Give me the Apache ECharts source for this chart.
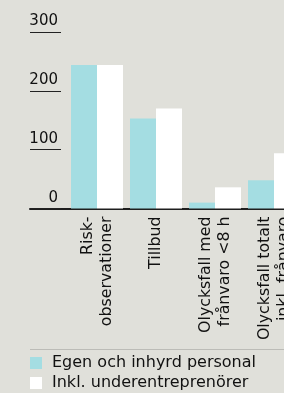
<!DOCTYPE html>
<html>
<head>
<meta charset="utf-8">
<script src="https://cdn.jsdelivr.net/npm/echarts@6/dist/echarts.min.js"></script>
<style>
	html, body { margin: 0; padding: 0; background: #e0e0da; }
	#chart { width: 284px; height: 393px; }
</style>
</head>
<body>
<div id="chart"></div>
<script>
	// 数据
	var categories = [ "Risk-\nobservationer", "Tillbud", "Olycksfall med\nfrånvaro <8 h", "Olycksfall totalt\ninkl. frånvaro" ];
	var egenValues = [ 244, 153, 10, 48 ];
	var inklValues = [ 244, 170, 36, 94 ];
	var seriesNames = [ "Egen och inhyrd personal", "Inkl. underentreprenörer" ];
	var yTicks = [ 0, 100, 200, 300 ];

	var font = "DejaVu Sans";
	var textColor = "#111111";

	var myChart = echarts.init(document.getElementById('chart'));
	var option = {
		backgroundColor : '#e0e0da',
		animation : false,
		// grid 0 放柱子（右边超出画布），grid 1 画坐标轴线和刻度
		grid : [ {
			left : 67.5,
			top : 32,
			width : 236,
			height : 176.5,
			outerBoundsMode : 'none'
		}, {
			left : 30,
			right : 0,
			top : 32,
			height : 176.5,
			outerBoundsMode : 'none'
		} ],
		xAxis : [ {
			type : 'category',
			gridIndex : 0,
			data : categories,
			axisLine : { show : false },
			axisTick : { show : false },
			axisLabel : {
				interval : 0,
				rotate : 90,
				margin : 8,
				fontFamily : font,
				fontSize : 15.8,
				lineHeight : 19,
				color : textColor
			}
		}, {
			type : 'value',
			gridIndex : 1,
			axisLine : {
				show : true,
				lineStyle : { color : '#1e1e1e', width : 2 }
			},
			axisTick : { show : false },
			axisLabel : { show : false },
			splitLine : { show : false }
		} ],
		yAxis : [ {
			type : 'value',
			gridIndex : 0,
			min : yTicks[0],
			max : yTicks[yTicks.length - 1],
			interval : 100,
			show : false
		}, {
			type : 'value',
			gridIndex : 1,
			min : yTicks[0],
			max : yTicks[yTicks.length - 1],
			interval : 100,
			axisLine : { show : false },
			splitLine : { show : false },
			axisTick : {
				show : true,
				inside : true,
				length : 31,
				lineStyle : { color : '#222222', width : 1 }
			},
			axisLabel : {
				inside : true,
				align : 'right',
				verticalAlign : 'bottom',
				margin : 28,
				padding : [ 0, 0, 3, 0 ],
				fontFamily : font,
				fontSize : 15,
				color : textColor
			}
		} ],
		legend : {
			orient : 'vertical',
			left : 30,
			top : 355,
			padding : 0,
			itemWidth : 12,
			itemHeight : 12,
			itemGap : 4,
			icon : 'rect',
			data : seriesNames,
			textStyle : {
				fontFamily : font,
				fontSize : 16,
				lineHeight : 16,
				color : textColor,
				padding : [ 0, 0, 0, 5 ]
			}
		},
		// 图例上方的分隔线
		graphic : [ {
			type : 'line',
			shape : { x1 : 30, y1 : 349.5, x2 : 284, y2 : 349.5 },
			style : { stroke : '#bcbcb7', lineWidth : 1 }
		} ],
		series : [ {
			name : seriesNames[0],
			type : 'bar',
			xAxisIndex : 0,
			yAxisIndex : 0,
			data : egenValues,
			barWidth : 26,
			barGap : '0%',
			itemStyle : { color : '#a4dde2' }
		}, {
			name : seriesNames[1],
			type : 'bar',
			xAxisIndex : 0,
			yAxisIndex : 0,
			data : inklValues,
			barWidth : 26,
			barGap : '0%',
			itemStyle : { color : '#ffffff' }
		} ]
	};
	myChart.setOption(option);
</script>
</body>
</html>
